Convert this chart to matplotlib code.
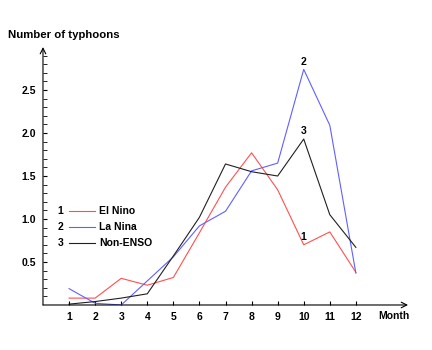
import matplotlib.pyplot as plt
import numpy as np

# typhoon counts per month
months = np.arange(1, 13)
el_nino = [0.08, 0.08, 0.31, 0.23, 0.32, 0.84, 1.37, 1.77, 1.34, 0.70, 0.85, 0.38]
la_nina = [0.19, 0.02, 0.00, 0.28, 0.56, 0.92, 1.09, 1.56, 1.65, 2.74, 2.09, 0.37]
non_enso = [0.01, 0.04, 0.08, 0.13, 0.57, 1.02, 1.64, 1.55, 1.50, 1.93, 1.05, 0.67]

names = ["El Nino", "La Nina", "Non-ENSO"]
colors = ["#ff5050", "#6060ff", "#202020"]
series = [el_nino, la_nina, non_enso]

plt.rcParams['font.family'] = ['Liberation Sans', 'DejaVu Sans']

fig = plt.figure(figsize=(4.32, 3.5), dpi=100)
ax = fig.add_axes([0.0995, 0.1286, 0.845, 0.737])

for s, c in zip(series, colors):
    ax.plot(months, s, color=c, lw=0.8)

# number labels at month 10
for i, s in enumerate(series):
    ax.annotate(str(i + 1), (months[9], s[9]), xytext=(0, 2), textcoords='offset points',
                ha='center', va='bottom', fontsize=7.5, fontweight='bold')

ax.set_xlim(0, 14)
ax.set_ylim(0, 3.0)
ax.set_xticks(months)
ax.set_yticks([0.5, 1.0, 1.5, 2.0, 2.5])
ax.set_yticks(np.arange(0.1, 2.95, 0.1), minor=True)
ax.tick_params(direction='in', length=3, labelsize=7.5, pad=5)
ax.tick_params(which='minor', direction='in', length=3)
for lab in ax.get_xticklabels() + ax.get_yticklabels():
    lab.set_fontweight('bold')

for sp in ax.spines.values():
    sp.set_visible(False)
ax.annotate('', xy=(1, 0), xytext=(0, 0), xycoords='axes fraction',
            arrowprops=dict(arrowstyle='->', lw=0.8, color='black', shrinkA=0, shrinkB=0))
ax.annotate('', xy=(0, 1), xytext=(0, 0), xycoords='axes fraction',
            arrowprops=dict(arrowstyle='->', lw=0.8, color='black', shrinkA=0, shrinkB=0))

ax.text(12.85, -0.13, "Month", ha='left', va='center', fontsize=7.5, fontweight='bold')
fig.text(0.018, 0.90, "Number of typhoons", ha='left', va='center', fontsize=8.2, fontweight='bold')

# legend
for i, (n, c) in enumerate(zip(names, colors)):
    y = 0.364 - i * 0.062
    ax.text(0.047, y, str(i + 1), transform=ax.transAxes, ha='center', va='center',
            fontsize=7.5, fontweight='bold')
    ax.plot([0.071, 0.142], [y, y], color=c, lw=0.8, transform=ax.transAxes)
    ax.text(0.153, y, n, transform=ax.transAxes, ha='left', va='center',
            fontsize=7.5, fontweight='bold')

fig.savefig("out.png", dpi=100)
